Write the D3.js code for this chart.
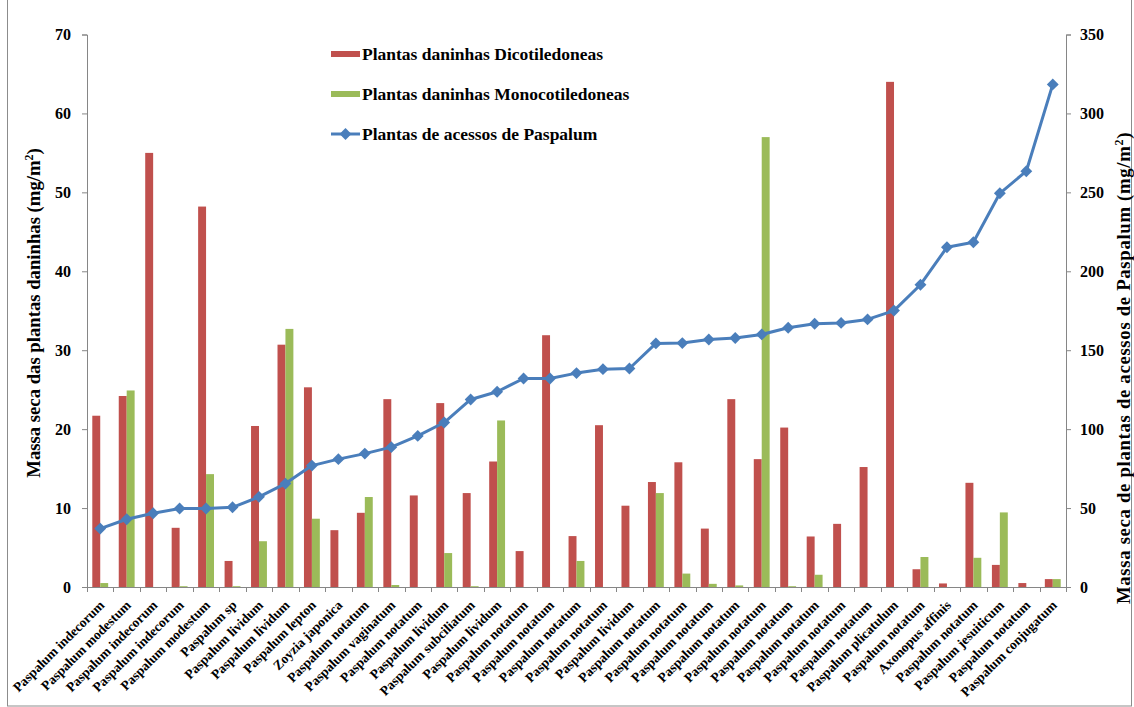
<!DOCTYPE html>
<html>
<head>
<meta charset="utf-8">
<script src="https://cdn.jsdelivr.net/npm/d3@7/dist/d3.min.js"></script>
<style>
  html, body { margin: 0; padding: 0; background: #ffffff; }
  svg { display: block; }
  text { font-family: "Liberation Serif", "Times New Roman", serif; font-weight: bold; fill: #000; }
</style>
</head>
<body>
<svg id="chart" width="1134" height="707"></svg>
<script>
// Accessions (x categories)
const categories = [
  "Paspalum indecorum", "Paspalum modestum", "Paspalum indecorum", "Paspalum indecorum",
  "Paspalum modestum", "Paspalum sp", "Paspalum lividum", "Paspalum lividum",
  "Paspalum lepton", "Zoyzia japonica", "Paspalum notatum", "Paspalum vaginatum",
  "Paspalum notatum", "Paspalum lividum", "Paspalum subciliatum", "Paspalum lividum",
  "Paspalum notatum", "Paspalum notatum", "Paspalum notatum", "Paspalum notatum",
  "Paspalum lividum", "Paspalum notatum", "Paspalum notatum", "Paspalum notatum",
  "Paspalum notatum", "Paspalum notatum", "Paspalum notatum", "Paspalum notatum",
  "Paspalum notatum", "Paspalum notatum", "Paspalum plicatulum", "Paspalum notatum",
  "Axonopus affinis", "Paspalum notatum", "Paspalum jesuiticum", "Paspalum notatum",
  "Paspalum conjugatum"
];

// Weed dry mass, dicots (mg/m2) - left axis
const dicotValues = [
  21.7, 24.2, 55.0, 7.5, 48.2, 3.3, 20.4, 30.7, 25.3, 7.2, 9.4, 23.8, 11.6,
  23.3, 11.9, 15.9, 4.55, 31.9, 6.45, 20.5, 10.3, 13.3, 15.8, 7.4, 23.8, 16.2,
  20.2, 6.4, 8.0, 15.2, 64.0, 2.25, 0.45, 13.2, 2.8, 0.5, 1.0
];

// Weed dry mass, monocots (mg/m2) - left axis
const monoValues = [
  0.5, 24.9, 0, 0.1, 14.3, 0.1, 5.8, 32.7, 8.65, 0, 11.4, 0.25, 0,
  4.3, 0.1, 21.1, 0, 0, 3.3, 0, 0, 11.9, 1.7, 0.4, 0.2, 57.0,
  0.1, 1.55, 0, 0, 0, 3.8, 0, 3.7, 9.45, 0, 1.0
];

// Paspalum accession dry mass (mg/m2) - right axis
const paspalumValues = [
  37.0, 42.9, 46.7, 49.7, 49.7, 50.5, 57.1, 65.5, 76.9, 81.0, 84.5, 88.6, 95.7,
  104.2, 118.8, 123.7, 132.1, 132.1, 135.5, 138.0, 138.4, 154.3, 154.5, 156.8, 157.7, 160.0,
  164.2, 166.8, 167.3, 169.5, 175.1, 191.5, 215.2, 218.4, 249.4, 263.4, 318.4
];

const leftTicks = [0, 10, 20, 30, 40, 50, 60, 70];
const rightTicks = [0, 50, 100, 150, 200, 250, 300, 350];

const legendItems = [
  { label: "Plantas daninhas Dicotiledoneas", kind: "bar", color: "#C0504D" },
  { label: "Plantas daninhas Monocotiledoneas", kind: "bar", color: "#9BBB59" },
  { label: "Plantas de acessos de Paspalum", kind: "line", color: "#4A7EBB" }
];

const colDicot = "#C0504D", colMono = "#9BBB59", colLine = "#4A7EBB", axisCol = "#868686";

const svg = d3.select("#chart");
const plot = { left: 87, right: 1066, top: 34.5, bottom: 587 };

// outer frame
svg.append("rect")
  .attr("x", 7.5).attr("y", -1).attr("width", 1124).attr("height", 707)
  .attr("fill", "none").attr("stroke", "#8c8c8c").attr("stroke-width", 1);

const idx = d3.range(categories.length);
const x = d3.scaleBand().domain(idx).range([plot.left, plot.right]).paddingInner(0).paddingOuter(0);
const yL = d3.scaleLinear().domain([0, 70]).range([plot.bottom, plot.top]);
const yR = d3.scaleLinear().domain([0, 350]).range([plot.bottom, plot.top]);

const barW = x.bandwidth() * 0.3;
const sub = d3.scaleBand().domain(["d", "m"]).range([0, barW * 2]);
const pairOffset = (x.bandwidth() - barW * 2) / 2;

// bars
const g = svg.append("g");
g.selectAll("rect.dicot").data(dicotValues).join("rect")
  .attr("class", "dicot")
  .attr("x", (d, i) => x(i) + pairOffset + sub("d"))
  .attr("width", sub.bandwidth())
  .attr("y", d => yL(d))
  .attr("height", d => yL(0) - yL(d))
  .attr("fill", colDicot);
g.selectAll("rect.mono").data(monoValues).join("rect")
  .attr("class", "mono")
  .attr("x", (d, i) => x(i) + pairOffset + sub("m"))
  .attr("width", sub.bandwidth())
  .attr("y", d => yL(d))
  .attr("height", d => yL(0) - yL(d))
  .attr("fill", colMono);

// left axis
const axL = svg.append("g").attr("transform", `translate(${plot.left},0)`)
  .call(d3.axisLeft(yL).tickValues(leftTicks).tickSize(5).tickPadding(11));
axL.select(".domain").attr("stroke", axisCol);
axL.selectAll(".tick line").attr("stroke", axisCol);
axL.selectAll(".tick text").attr("font-size", 16).attr("font-family", "Liberation Serif").attr("font-weight", "bold");

// right axis
const axR = svg.append("g").attr("transform", `translate(${plot.right},0)`)
  .call(d3.axisRight(yR).tickValues(rightTicks).tickSize(5).tickPadding(9));
axR.select(".domain").attr("stroke", axisCol);
axR.selectAll(".tick line").attr("stroke", axisCol);
axR.selectAll(".tick text").attr("font-size", 16).attr("font-family", "Liberation Serif").attr("font-weight", "bold");

// bottom axis line and boundary ticks
svg.append("line")
  .attr("x1", plot.left).attr("x2", plot.right)
  .attr("y1", plot.bottom + 0.5).attr("y2", plot.bottom + 0.5)
  .attr("stroke", axisCol);
const bounds = idx.map(i => x(i)).concat([x(idx.length - 1) + x.bandwidth()]);
svg.selectAll("line.xtick").data(bounds).join("line")
  .attr("class", "xtick")
  .attr("x1", d => Math.round(d) + 0.5).attr("x2", d => Math.round(d) + 0.5)
  .attr("y1", plot.bottom).attr("y2", plot.bottom + 5)
  .attr("stroke", axisCol);

// category labels, rotated
svg.selectAll("text.cat").data(categories).join("text")
  .attr("class", "cat")
  .attr("text-anchor", "end")
  .attr("font-size", 13.5)
  .attr("transform", (d, i) => `translate(${x(i) + x.bandwidth() / 2 + 5},${plot.bottom + 19}) rotate(-45)`)
  .text(d => d);

// paspalum line with diamond markers
const line = d3.line().x((d, i) => x(i) + x.bandwidth() / 2).y(d => yR(d));
svg.append("path").datum(paspalumValues)
  .attr("d", line).attr("fill", "none")
  .attr("stroke", colLine).attr("stroke-width", 3).attr("stroke-linejoin", "round");
const diamond = d3.symbol().type(d3.symbolDiamond2).size(90);
svg.selectAll("path.mk").data(paspalumValues).join("path")
  .attr("class", "mk")
  .attr("d", diamond)
  .attr("transform", (d, i) => `translate(${x(i) + x.bandwidth() / 2},${yR(d)})`)
  .attr("fill", colLine);

// axis titles
const tL = svg.append("text")
  .attr("transform", `translate(40,313) rotate(-90)`)
  .attr("text-anchor", "middle").attr("font-size", 18.7);
tL.append("tspan").text("Massa seca das plantas daninhas (mg/m");
tL.append("tspan").attr("font-size", 12).attr("dy", -7).text("2");
tL.append("tspan").attr("dy", 7).text(")");

const tR = svg.append("text")
  .attr("transform", `translate(1130,368) rotate(-90)`)
  .attr("text-anchor", "middle").attr("font-size", 18.7)
  .attr("letter-spacing", 0.7);
tR.append("tspan").text("Massa seca de plantas de acessos de Paspalum (mg/m");
tR.append("tspan").attr("font-size", 12).attr("dy", -7).text("2");
tR.append("tspan").attr("dy", 7).text(")");

// legend
const leg = svg.append("g").attr("transform", "translate(331,0)");
const rowY = [54, 94, 134];
legendItems.forEach((it, i) => {
  const row = leg.append("g").attr("transform", `translate(0,${rowY[i]})`);
  if (it.kind === "bar") {
    row.append("rect").attr("x", 0).attr("y", -3).attr("width", 29).attr("height", 6).attr("fill", it.color);
  } else {
    row.append("line").attr("x1", 0).attr("x2", 29).attr("y1", 0).attr("y2", 0)
      .attr("stroke", it.color).attr("stroke-width", 3);
    row.append("path").attr("d", diamond).attr("transform", "translate(14.5,0)").attr("fill", it.color);
  }
  row.append("text").attr("x", 31).attr("y", 0).attr("dy", "0.35em")
    .attr("font-size", 17.5).text(it.label);
});
</script>
</body>
</html>
